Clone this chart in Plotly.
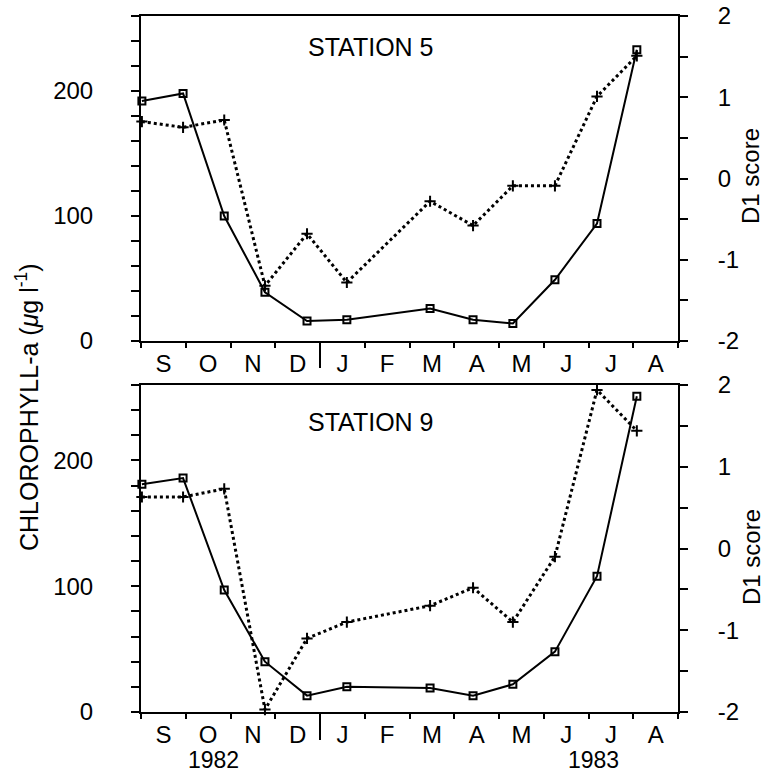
import plotly.graph_objects as go

W, H = 766, 775

# ---- data ----
months = ["S", "O", "N", "D", "J", "F", "M", "A", "M", "J", "J", "A"]
sample_month = [0.02, 0.94, 1.86, 2.77, 3.71, 4.60, 6.46, 7.42, 8.31, 9.25, 10.19, 11.08]

chl_st5 = [192, 198, 100, 39, 16, 17, 26, 17, 14, 49, 94, 233]
d1_st5 = [0.70, 0.63, 0.72, -1.32, -0.68, -1.28, -0.28, -0.58, -0.09, -0.09, 1.01, 1.51]

chl_st9 = [181, 186, 97, 40, 13, 20, 19, 13, 22, 48, 108, 251]
d1_st9 = [0.63, 0.63, 0.73, -1.97, -1.10, -0.90, -0.70, -0.48, -0.90, -0.10, 1.94, 1.44]

chl_ticks = [0, 100, 200]
d1_ticks = [-2, -1, 0, 1, 2]
d1_ticktext = ["-2", "-1", "0", "1", "2"]

FONT = "Liberation Sans, Arial, Helvetica, sans-serif"
FS = 24


def px_x(x):
    return x / W


def px_y(y):
    return 1 - y / H


X0, X1 = px_x(141), px_x(678)
top_dom = [px_y(341), px_y(16)]
bot_dom = [px_y(712), px_y(385)]

fig = go.Figure()

panels = [
    ("x", "y", "y2", chl_st5, d1_st5),
    ("x2", "y3", "y4", chl_st9, d1_st9),
]
for xa, ya, yb, chl, d1 in panels:
    fig.add_trace(go.Scatter(
        x=sample_month, y=chl, xaxis=xa, yaxis=ya, mode="lines+markers",
        line=dict(color="black", width=2),
        marker=dict(symbol="square-open", size=7, color="black", line=dict(width=2)),
        cliponaxis=False, showlegend=False))
    fig.add_trace(go.Scatter(
        x=sample_month, y=d1, xaxis=xa, yaxis=yb, mode="lines+markers",
        line=dict(color="black", width=3, dash="dot"),
        marker=dict(symbol="cross-thin-open", size=8, color="black", line=dict(width=2, color="black")),
        cliponaxis=False, showlegend=False))

common_x = dict(
    domain=[X0, X1], range=[0, 12], tickmode="array",
    tickvals=[i + 0.5 for i in range(12)], ticktext=months,
    ticks="", showline=True, linecolor="black", linewidth=2, mirror=True,
    showgrid=False, zeroline=False, ticklabelstandoff=0, automargin=False,
    tickfont=dict(family=FONT, size=FS, color="black"),
    minor=dict(tickmode="array", tickvals=list(range(13)), ticks="outside",
               ticklen=5, tickwidth=2, tickcolor="black", showgrid=False),
    fixedrange=True,
)
left_y = dict(
    range=[0, 260], tickmode="array", tickvals=chl_ticks,
    ticks="outside", ticklen=8, tickwidth=2, tickcolor="black",
    showline=True, linecolor="black", linewidth=2, showgrid=False, zeroline=False,
    ticklabelstandoff=33, automargin=False,
    tickfont=dict(family=FONT, size=FS, color="black"),
    minor=dict(tick0=0, dtick=20, ticks="outside", ticklen=8, tickwidth=2,
               tickcolor="black", showgrid=False),
)
right_y = dict(
    range=[-2, 2], tickmode="array", tickvals=d1_ticks, ticktext=d1_ticktext,
    side="right",
    ticks="outside", ticklen=8, tickwidth=2, tickcolor="black",
    showline=True, linecolor="black", linewidth=2, showgrid=False, zeroline=False,
    ticklabelstandoff=25, automargin=False,
    tickfont=dict(family=FONT, size=FS, color="black"),
    minor=dict(tick0=-2, dtick=0.5, ticks="outside", ticklen=8, tickwidth=2,
               tickcolor="black", showgrid=False),
)

fig.update_layout(
    width=W, height=H, margin=dict(l=0, r=0, t=0, b=0, autoexpand=False),
    paper_bgcolor="white", plot_bgcolor="white",
    font=dict(family=FONT, size=FS, color="black"),
    xaxis=dict(common_x, anchor="y"),
    xaxis2=dict(common_x, anchor="y3"),
    yaxis=dict(left_y, domain=top_dom, anchor="x"),
    yaxis2=dict(right_y, domain=top_dom, anchor="x", overlaying="y"),
    yaxis3=dict(left_y, domain=bot_dom, anchor="x2"),
    yaxis4=dict(right_y, domain=bot_dom, anchor="x2", overlaying="y3"),
)

# year separator between D and J
for xr, y0, y1 in [("x", 341, 368), ("x2", 712, 740)]:
    fig.add_shape(type="line", xref=xr, yref="paper", x0=4, x1=4,
                  y0=px_y(y0), y1=px_y(y1), line=dict(color="black", width=2))

ann = []
def add_text(text, x, y, angle=0, size=FS, yanchor="middle"):
    ann.append(dict(text=text, x=px_x(x), y=px_y(y), xref="paper", yref="paper",
                    showarrow=False, textangle=angle, xanchor="center", yanchor=yanchor,
                    borderpad=0, font=dict(family=FONT, size=size, color="black")))

add_text("STATION 5", 370, 47, size=25)
add_text("STATION 9", 370, 422, size=25)
add_text("D1 score", 751, 176, angle=-90)
add_text("D1 score", 751, 557, angle=-90)
add_text("CHLOROPHYLL-a (<i>μ</i>g l<sup>-1</sup>)", 27, 407, angle=-90, size=25)
add_text("1982", 213, 774, size=23, yanchor="bottom")
add_text("1983", 593, 774, size=23, yanchor="bottom")
fig.update_layout(annotations=ann)

fig.write_html("out.html")
